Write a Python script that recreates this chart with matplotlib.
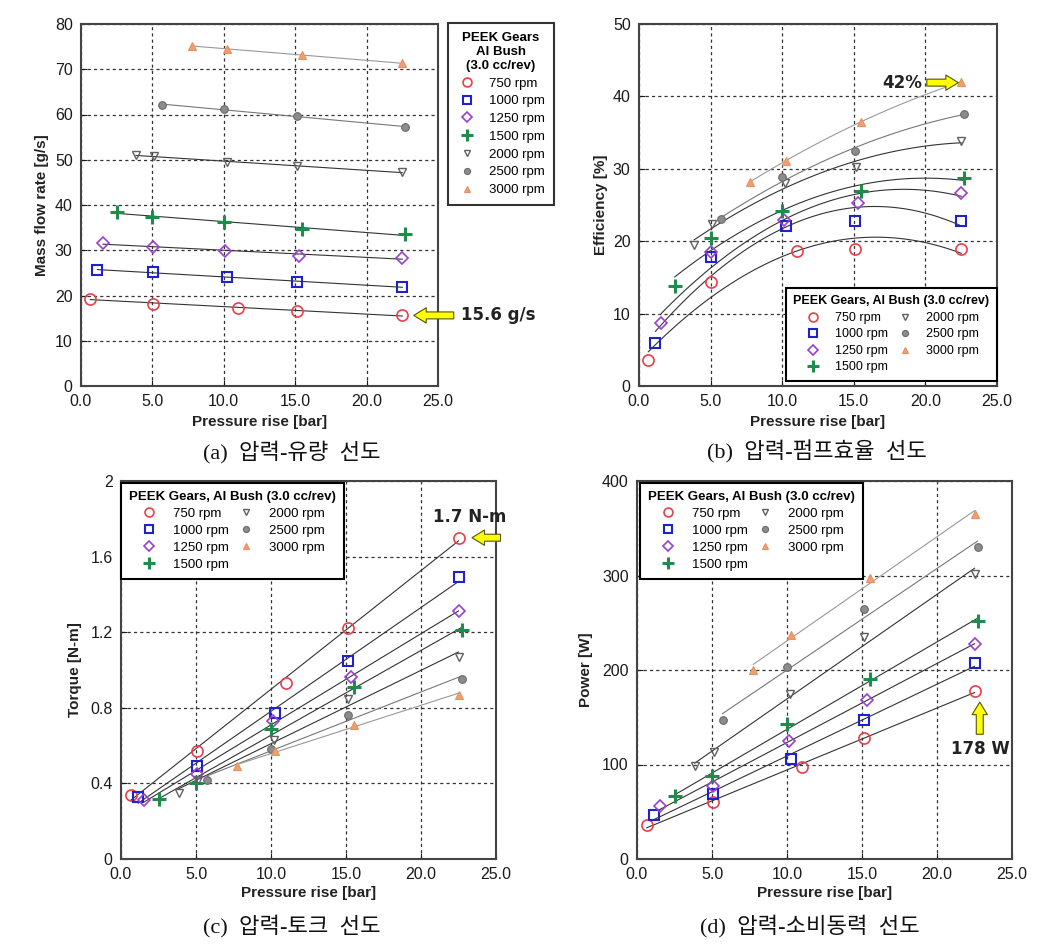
import numpy as np
import matplotlib
matplotlib.use("Agg")
import matplotlib.pyplot as plt
from matplotlib.lines import Line2D
from matplotlib.ticker import FormatStrFormatter

plt.rcParams['font.family'] = ['Liberation Sans', 'DejaVu Sans']

# rpm series (legend labels)
rpm_labels = ['750 rpm', '1000 rpm', '1250 rpm', '1500 rpm', '2000 rpm', '2500 rpm', '3000 rpm']

# pressure rise [bar] of each measurement, per series
pressure = [
    [0.65, 5.05, 11.0, 15.1, 22.5],
    [1.15, 5.05, 10.25, 15.1, 22.5],
    [1.55, 5.05, 10.1, 15.3, 22.5],
    [2.5, 5.0, 10.0, 15.5, 22.7],
    [3.85, 5.1, 10.2, 15.15, 22.5],
    [5.7, 10.0, 15.1, 22.7],
    [7.75, 10.25, 15.5, 22.5],
]

# (a) mass flow rate [g/s]
mass_flow = [
    [19.3, 18.2, 17.3, 16.6, 15.6],
    [25.7, 25.1, 24.1, 23.0, 21.9],
    [31.5, 30.8, 29.9, 28.8, 28.3],
    [38.5, 37.3, 36.3, 34.7, 33.5],
    [51.0, 50.8, 49.4, 48.7, 47.2],
    [62.1, 61.2, 59.7, 57.2],
    [75.2, 74.4, 73.2, 71.3],
]

# (b) efficiency [%]
efficiency = [
    [3.6, 14.3, 18.7, 18.9, 18.9],
    [6.0, 17.8, 22.1, 22.8, 22.8],
    [8.7, 18.5, 22.9, 25.3, 26.7],
    [13.8, 20.5, 24.2, 27.0, 28.7],
    [19.5, 22.4, 28.0, 30.3, 33.8],
    [23.0, 28.8, 32.5, 37.6],
    [28.2, 31.1, 36.5, 42.0],
]

# (c) torque [N-m]
torque = [
    [0.34, 0.57, 0.93, 1.22, 1.70],
    [0.33, 0.49, 0.77, 1.05, 1.49],
    [0.31, 0.45, 0.73, 0.965, 1.31],
    [0.32, 0.40, 0.69, 0.91, 1.21],
    [0.35, 0.42, 0.63, 0.845, 1.07],
    [0.42, 0.58, 0.76, 0.95],
    [0.49, 0.57, 0.71, 0.87],
]

# (d) power [W]
power = [
    [36, 60.5, 97, 128, 178],
    [47, 69, 106, 147, 207],
    [56, 77, 125, 168, 228],
    [66.5, 87.6, 142.5, 190.7, 251.5],
    [98, 113, 175, 235, 301.5],
    [147, 203, 265, 330],
    [200, 237.5, 297, 365],
]

captions = ['(a)  압력-유량  선도', '(b)  압력-펌프효율  선도', '(c)  압력-토크  선도', '(d)  압력-소비동력  선도']

# marker styles per series
styles = [
    dict(marker='o', mfc='none', mec='#e8404a', ms=8, mew=1.2),
    dict(marker='s', mfc='none', mec='#2020d0', ms=7, mew=1.5),
    dict(marker='D', mfc='none', mec='#9a40d0', ms=6, mew=1.2),
    dict(marker='+', mfc='none', mec='#1e8c4a', ms=10, mew=2.2),
    dict(marker='v', mfc='none', mec='#606060', ms=6, mew=1.0),
    dict(marker='o', mfc='#8c8c8c', mec='#6a6a6a', ms=5.5, mew=0.8),
    dict(marker='^', mfc='#f0a070', mec='#e89060', ms=5.5, mew=0.8),
]
line_colors = ['#333333', '#333333', '#333333', '#333333', '#333333', '#777777', '#999999']

fig = plt.figure(figsize=(10.6, 9.48), dpi=100)
ax_a = fig.add_axes([81 / 1060, 1 - 386 / 948, 357 / 1060, 362 / 948])
ax_b = fig.add_axes([639 / 1060, 1 - 386 / 948, 358 / 1060, 362 / 948])
ax_c = fig.add_axes([121 / 1060, 1 - 859 / 948, 375 / 1060, 378 / 948])
ax_d = fig.add_axes([637 / 1060, 1 - 859 / 948, 375 / 1060, 378 / 948])


def draw_panel(ax, values, deg, ylim, yticks, ylabel, ylabel_x, xlabel_y):
    for i in range(len(rpm_labels)):
        x = np.array(pressure[i])
        y = np.array(values[i])
        coef = np.polyfit(x, y, deg)
        xs = np.linspace(x.min(), x.max(), 60)
        ax.plot(xs, np.polyval(coef, xs), color=line_colors[i], lw=0.8, zorder=2)
        ax.plot(x, y, ls='none', zorder=3, **styles[i])
    ax.set_xlim(0, 25)
    ax.set_ylim(*ylim)
    ax.set_xticks([0, 5, 10, 15, 20, 25])
    ax.xaxis.set_major_formatter(FormatStrFormatter('%.1f'))
    ax.set_yticks(yticks)
    ax.grid(True, color='#333333', lw=0.9, ls=(0, (2.5, 2.5)))
    ax.set_axisbelow(True)
    ax.tick_params(direction='in', length=4, labelsize=11.5, colors='#1a1a1a', pad=6)
    for s in ax.spines.values():
        s.set_color('#444444')
        s.set_linewidth(1.5)
    ax.set_xlabel('Pressure rise [bar]', fontsize=11, fontweight='bold', color='#222222')
    ax.set_ylabel(ylabel, fontsize=11, fontweight='bold', color='#222222')
    ax.yaxis.set_label_coords(ylabel_x, 0.5)
    ax.xaxis.set_label_coords(0.5, xlabel_y)


draw_panel(ax_a, mass_flow, 1, (0, 80), range(0, 81, 10), 'Mass flow rate [g/s]', -0.09, -0.08)
draw_panel(ax_b, efficiency, 2, (0, 50), range(0, 51, 10), 'Efficiency [%]', -0.087, -0.08)
draw_panel(ax_c, torque, 1, (0, 2), [0, 0.4, 0.8, 1.2, 1.6, 2], 'Torque [N-m]', -0.104, -0.071)
draw_panel(ax_d, power, 1, (0, 400), range(0, 401, 100), 'Power [W]', -0.117, -0.071)
ax_c.set_yticklabels(['0', '0.4', '0.8', '1.2', '1.6', '2'])

handles = [Line2D([], [], ls='none', **st) for st in styles]


def style_legend(leg, size):
    fr = leg.get_frame()
    fr.set_edgecolor('black')
    fr.set_linewidth(1.5)
    fr.set_boxstyle('square', pad=0)
    leg.get_title().set_fontweight('bold')
    leg.get_title().set_fontsize(size)
    leg.get_title().set_multialignment('center')


leg = ax_a.legend(handles, rpm_labels, title='PEEK Gears\nAl Bush\n(3.0 cc/rev)', loc='upper left',
                  bbox_to_anchor=(1.028, 1.003), borderaxespad=0, fontsize=9.5, frameon=True,
                  fancybox=False, handlelength=1.5, handletextpad=0.9, labelspacing=0.42,
                  borderpad=0.7, markerscale=0.8, alignment='center')
style_legend(leg, 9.5)

common = dict(title='PEEK Gears, Al Bush (3.0 cc/rev)', ncol=2, frameon=True, fancybox=False,
              handlelength=1.5, handletextpad=1.0, labelspacing=0.36, columnspacing=0.6,
              borderpad=0.6, borderaxespad=0, markerscale=0.8, framealpha=1)
leg = ax_b.legend(handles, rpm_labels, loc='lower right', bbox_to_anchor=(1.0, 0.014), fontsize=9, **common)
style_legend(leg, 9)
leg = ax_c.legend(handles, rpm_labels, loc='upper left', bbox_to_anchor=(0.0, 0.995), fontsize=9.5, **common)
style_legend(leg, 9.5)
leg = ax_d.legend(handles, rpm_labels, loc='upper left', bbox_to_anchor=(0.008, 0.995), fontsize=9.5, **common)
style_legend(leg, 9.5)

# highlight arrows and notes
arrow = dict(arrowstyle='simple,head_length=0.45,head_width=0.55,tail_width=0.25',
             fc='#ffff00', ec='#555500', lw=0.8, mutation_scale=20, shrinkA=0, shrinkB=0)
note = dict(fontsize=12, fontweight='bold', color='#222222', family='DejaVu Sans')

ax_a.annotate('', xy=(23.3, 15.6), xytext=(26.1, 15.6), arrowprops=arrow, annotation_clip=False)
ax_a.text(26.6, 15.6, '15.6 g/s', ha='left', va='center', clip_on=False, **note)

ax_b.annotate('', xy=(22.3, 41.9), xytext=(20.1, 41.9), arrowprops=arrow)
ax_b.text(19.8, 41.9, '42%', ha='right', va='center', **note)

ax_c.annotate('', xy=(23.4, 1.70), xytext=(25.3, 1.70), arrowprops=arrow, annotation_clip=False)
ax_c.text(20.8, 1.81, '1.7 N-m', ha='left', va='center', clip_on=False, **note)

ax_d.annotate('', xy=(22.85, 166), xytext=(22.85, 132), arrowprops=arrow)
ax_d.text(22.9, 116, '178 W', ha='center', va='center', **note)

# sub-figure captions
cap_pos = [(292, 452), (817, 452), (292, 926), (810, 926)]
for (cx, cy), cap in zip(cap_pos, captions):
    fig.text(cx / 1060, 1 - cy / 948, cap, ha='center', va='center', fontsize=16,
             family=['Liberation Serif', 'Noto Sans CJK KR'], color='#111111')

fig.savefig('out.png', dpi=100)
